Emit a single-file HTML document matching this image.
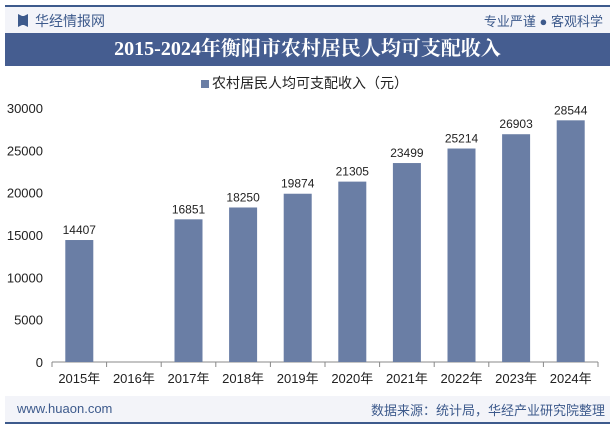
<!DOCTYPE html>
<html><head><meta charset="utf-8"><style>
body{margin:0;width:615px;height:427px;background:#fff;overflow:hidden;font-family:"Liberation Sans","Noto Sans CJK SC",sans-serif;position:relative}
.abs{position:absolute}
</style></head><body>
<div class="abs" style="left:5px;top:5px;width:605px;height:2px;background:#3d5a8c"></div>
<div class="abs" style="left:5px;top:7px;width:605px;height:26px;background:#f3f4f9"></div>
<div class="abs" style="left:18px;top:14px;width:10px;height:13px;background:#3d5a8c;clip-path:polygon(0 0,40% 15%,60% 15%,100% 0,100% 100%,60% 85%,40% 85%,0 100%)"></div>
<div class="abs" style="left:35px;top:11px;font-size:14px;color:#3d5a8c">华经情报网</div>
<div class="abs" style="right:12px;top:11px;font-size:13px;color:#3d5a8c">专业严谨 ● 客观科学</div>
<div class="abs" style="left:5px;top:33px;width:605px;height:33px;background:#455d90;color:#fff;font-family:'Liberation Serif','Noto Serif CJK SC',serif;font-weight:bold;font-size:20px;text-align:center;line-height:33px;white-space:nowrap">2015-2024年衡阳市农村居民人均可支配收入</div>
<div class="abs" style="left:201px;top:73px;font-size:14px;color:#222"><span style="display:inline-block;width:8px;height:8px;background:#6a7ea5;margin-right:3px"></span>农村居民人均可支配收入（元）</div>
<svg class="abs" style="left:0;top:0" width="615" height="427" id="chart"></svg>
<div class="abs" style="left:5px;top:396px;width:605px;height:26px;background:#f3f4f9"></div>
<div class="abs" style="left:17px;top:401px;font-size:13px;color:#3d5a8c">www.huaon.com</div>
<div class="abs" style="right:10px;top:400px;font-size:13px;color:#3d5a8c">数据来源：统计局，华经产业研究院整理</div>
<div class="abs" style="left:5px;top:422px;width:605px;height:2px;background:#3d5a8c"></div>
<script>
const categories=["2015年","2016年","2017年","2018年","2019年","2020年","2021年","2022年","2023年","2024年"];
const values=[14407,null,16851,18250,19874,21305,23499,25214,26903,28544];
const yTicks=[0,5000,10000,15000,20000,25000,30000];
const svg=document.getElementById('chart');const NS='http://www.w3.org/2000/svg';
const x0=52,x1=598,yBase=362,yTop=108,yMax=30000;
const step=(x1-x0)/categories.length;
const y=v=>yBase-(v/yMax)*(yBase-yTop);
const xc=i=>x0+step*(i+0.5);
function mk(t,a){const e=document.createElementNS(NS,t);for(const k in a)e.setAttribute(k,a[k]);svg.appendChild(e);return e;}
yTicks.forEach(t=>{const e=mk('text',{x:43,y:y(t)+5,'text-anchor':'end','font-size':13,fill:'#222'});e.textContent=t;

});
const ax=mk('line',{x1:x0,y1:yBase,x2:x1,y2:yBase,stroke:'#888'});


for(let i=0;i<=categories.length;i++){const tk=mk('line',{x1:x0+step*i,y1:yBase,x2:x0+step*i,y2:yBase+5,stroke:'#888'});

}
categories.forEach((c,i)=>{
const l=mk('text',{x:xc(i),y:yBase+21,'text-anchor':'middle','font-size':13,fill:'#222'});l.textContent=c;


const v=values[i];if(v==null)return;
const b=mk('rect',{x:xc(i)-14,y:y(v),width:28,height:yBase-y(v),fill:'#6a7ea5'});


const t=mk('text',{x:xc(i),y:y(v)-6,'text-anchor':'middle','font-size':12,fill:'#222'});t.textContent=v;


});
</script>
</body></html>
